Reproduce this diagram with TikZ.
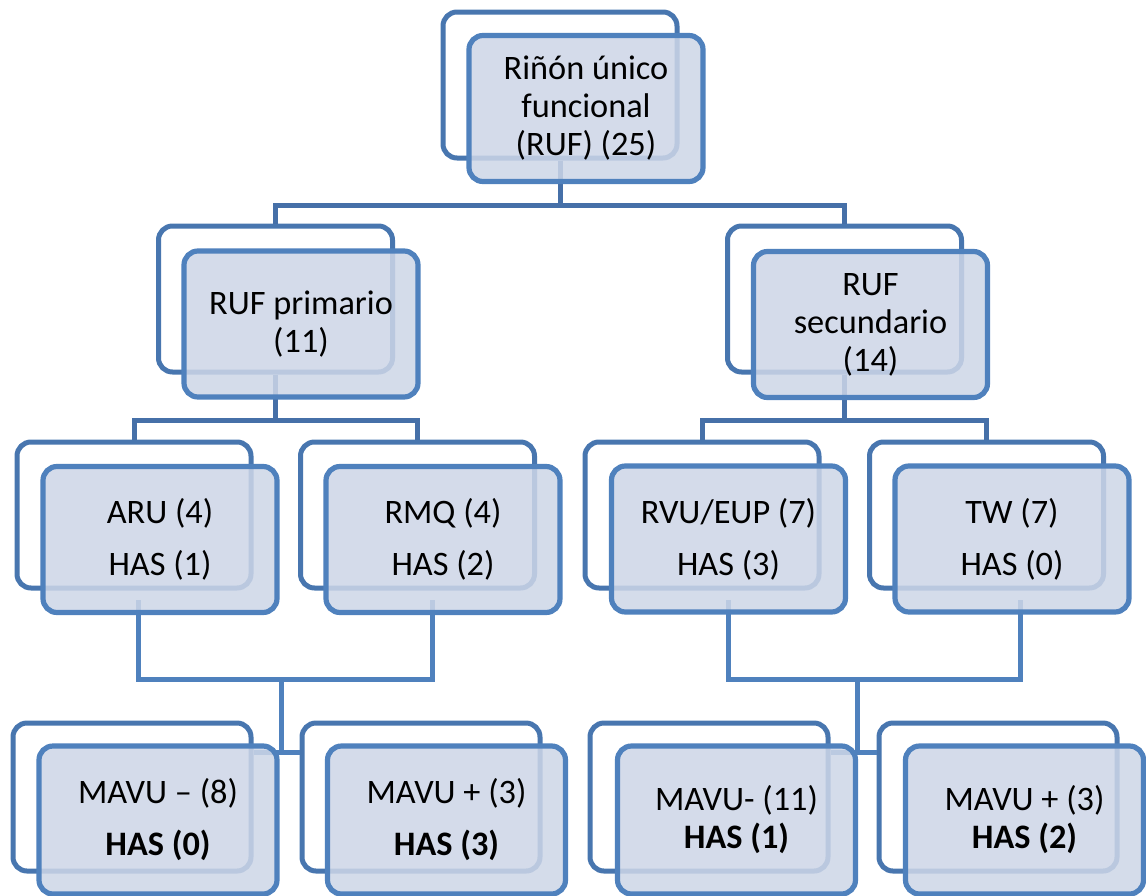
\documentclass[tikz,border=0pt]{standalone}
\usepackage{fontspec}
\setmainfont{Carlito}
\definecolor{backc}{RGB}{72,118,175}
\definecolor{frontc}{RGB}{79,129,189}
\definecolor{frontfill}{RGB}{205,214,231}
\definecolor{conUc}{RGB}{70,112,168}
\begin{document}
\begin{tikzpicture}[x=1pt,y=-1pt,
  backbox/.style={draw=backc, line width=5pt, fill=white, rounded corners=14pt,
    minimum width=234pt, minimum height=146pt, inner sep=0pt},
  frontbox/.style={draw=frontc, line width=5.2pt, fill=frontfill, fill opacity=0.86,
    text opacity=1, rounded corners=14pt, minimum width=234pt, minimum height=146pt,
    align=center, inner sep=0pt, font=\fontsize{34.3}{38}\selectfont},
  bigbox/.style={minimum width=238pt, minimum height=148pt},
  conU/.style={draw=conUc, line width=5pt},
  conL/.style={draw=frontc, line width=5pt},
]
\useasboundingbox (0,0) rectangle (1146,895);

% back boxes
\node[backbox] (topB) at (560,85) {};
\node[backbox] (primB) at (275.5,299) {};
\node[backbox] (secB) at (844.5,299) {};
\node[backbox] (aruB) at (134,515) {};
\node[backbox] (rmqB) at (417.5,515) {};
\node[backbox] (rvuB) at (702,515) {};
\node[backbox] (twB) at (986.5,515) {};
\node[backbox,bigbox] (m1B) at (132,797) {};
\node[backbox,bigbox] (m2B) at (421,797) {};
\node[backbox,bigbox] (m3B) at (709,797) {};
\node[backbox,bigbox] (m4B) at (998,797) {};

% connectors
\coordinate (j1) at (560,205);
\draw[conU] (topB.south) -- (j1);
\draw[conU] (j1) -| (primB.north);
\draw[conU] (j1) -| (secB.north);

\coordinate (j2) at (275.5,420);
\draw[conU] (primB.south) -- (j2);
\draw[conU] (j2) -| (aruB.north);
\draw[conU] (j2) -| (rmqB.north);

\coordinate (j3) at (844.5,420);
\draw[conU] (secB.south) -- (j3);
\draw[conU] (j3) -| (rvuB.north);
\draw[conU] (j3) -| (twB.north);

\coordinate (a1) at (138,600);
\coordinate (a2) at (432,600);
\coordinate (j4) at (281,679);
\coordinate (k4) at (281,752);
\draw[conL] (a1) |- (j4);
\draw[conL] (a2) |- (j4);
\draw[conL] (j4) -- (k4);
\draw[conL] (k4) -- (k4 -| m1B.east);
\draw[conL] (k4) -- (k4 -| m2B.west);

\coordinate (b1) at (728,600);
\coordinate (b2) at (1020,600);
\coordinate (j5) at (857,679);
\coordinate (k5) at (857,752);
\draw[conL] (b1) |- (j5);
\draw[conL] (b2) |- (j5);
\draw[conL] (j5) -- (k5);
\draw[conL] (k5) -- (k5 -| m3B.east);
\draw[conL] (k5) -- (k5 -| m4B.west);

% front boxes
\node[frontbox] (topF) at (586,108.5) {Riñón único\\funcional\\(RUF) (25)};
\node[frontbox] (primF) at (301,324) {RUF primario\\(11)};
\node[frontbox] (secF) at (870.5,324.5) {RUF\\secundario\\(14)};
\node[frontbox] (aruF) at (160,539.5) {ARU (4)\\[14pt]HAS (1)};
\node[frontbox] (rmqF) at (443,539.5) {RMQ (4)\\[14pt]HAS (2)};
\node[frontbox] (rvuF) at (728.5,539) {RVU/EUP (7)\\[14pt]HAS (3)};
\node[frontbox] (twF) at (1012,539) {TW (7)\\[14pt]HAS (0)};
\node[frontbox,bigbox] (m1F) at (158,820) {MAVU – (8)\\[14pt]\textbf{HAS (0)}};
\node[frontbox,bigbox] (m2F) at (446.5,820) {MAVU + (3)\\[14pt]\textbf{HAS (3)}};
\node[frontbox,bigbox] (m3F) at (736.5,820) {MAVU- (11)\\\textbf{HAS (1)}};
\node[frontbox,bigbox] (m4F) at (1024.5,820) {MAVU + (3)\\\textbf{HAS (2)}};
\end{tikzpicture}
\end{document}
